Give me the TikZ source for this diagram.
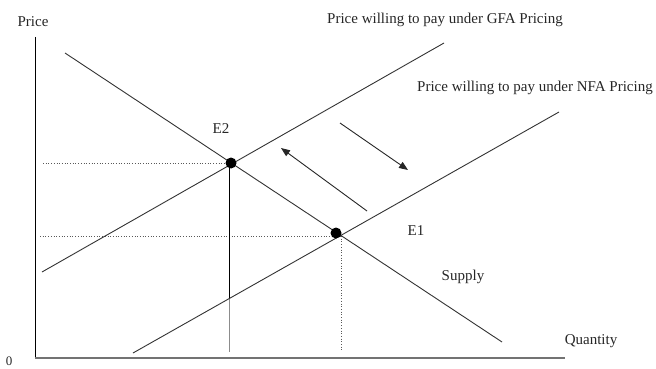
\documentclass[tikz,border=0pt]{standalone}
\usepackage{fontspec}
\setmainfont{Liberation Serif}
\usetikzlibrary{arrows.meta}
\begin{document}
\begin{tikzpicture}[x=1pt,y=-1pt,
  curve/.style={draw=black!80, line width=0.9pt},
  guide/.style={draw=black!65, line width=0.7pt, dotted},
  drop/.style={draw=black!45, line width=0.8pt},
  lbl/.style={font=\fontsize{15}{17}\selectfont, inner sep=0pt, text=black!85},
  eq/.style={circle, fill=black, minimum size=11pt, inner sep=0pt},
  shiftarrow/.style={-{Triangle[length=9pt,width=7pt]}, line width=0.9pt, draw=black!85}]
\useasboundingbox (0,0) rectangle (656,369);
% axes
\coordinate (yTop) at (35,37);
\coordinate (origin) at (35,358);
\coordinate (xEnd) at (565,358);
\draw[line width=1pt] (yTop) -- (origin);
\draw[line width=1.8pt, draw=black!55] (origin) -- (xEnd);
% curve end points
\coordinate (s1) at (65,53);
\coordinate (s2) at (502,342);
\coordinate (g1) at (42,272);
\coordinate (g2) at (444,43);
\coordinate (n1) at (133,353);
\coordinate (n2) at (559,112);
\coordinate (k) at (229,299);
\coordinate (e2base) at (229,352);
\coordinate (e1base) at (341,352);
\coordinate (h2) at (43,163);
\coordinate (h1) at (40,236);
\coordinate (e2top) at (229,163);
\coordinate (e1c) at (341,236);
% guides
\draw[guide] (h2) -- (e2top);
\draw[guide] (h1) -- (e1c);
\draw[guide] (e1c) -- (e1base);
\draw[drop] (e2top) -- (e2base);
\draw[line width=0.9pt] (e2top) -- (k);
% curves
\draw[curve] (s1) -- (s2);
\draw[curve] (g1) -- (g2);
\draw[curve] (n1) -- (n2);
% equilibria
\node[eq] (e2) at (231,163) {};
\node[eq] (e1) at (336,233) {};
% shift arrows
\coordinate (a1s) at (367,211);
\coordinate (a1e) at (281,148);
\coordinate (a2s) at (340,123);
\coordinate (a2e) at (408,170);
\draw[shiftarrow] (a1s) -- (a1e);
\draw[shiftarrow] (a2s) -- (a2e);
% labels
\node[lbl] (price) at (33,22) {Price};
\node[lbl, font=\fontsize{13}{15}\selectfont] (zero) at (9,361) {0};
\node[lbl] (qty) at (591,341) {Quantity};
\node[lbl] (gfa) at (445,20) {Price willing to pay under GFA Pricing};
\node[lbl] (nfa) at (535,88) {Price willing to pay under NFA Pricing};
\node[lbl] (e2l) at (221,129) {E2};
\node[lbl] (e1l) at (416,231) {E1};
\node[lbl] (sup) at (463,277) {Supply};
\end{tikzpicture}
\end{document}
